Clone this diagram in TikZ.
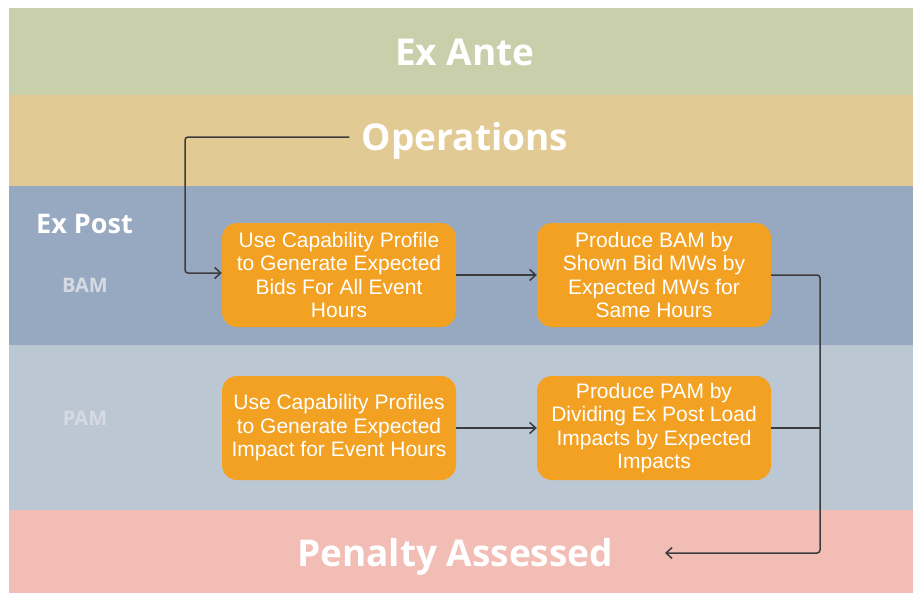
\documentclass[tikz,border=0pt]{standalone}
\usepackage{fontspec}
\setmainfont{Liberation Sans}
\newfontfamily\headfont{Open Sans}
\usetikzlibrary{arrows.meta}
\definecolor{exante}{HTML}{C9CFAA}
\definecolor{ops}{HTML}{E2CA94}
\definecolor{expost}{HTML}{97A9C0}
\definecolor{pamband}{HTML}{BCC7D4}
\definecolor{penalty}{HTML}{F1BDB5}
\definecolor{boxorange}{HTML}{F2A122}
\definecolor{linegrey}{HTML}{3C3C3C}
\definecolor{lblgrey}{HTML}{D6DBE3}
\tikzset{
  band/.style={fill=#1, draw=none},
  headtext/.style={text=white, font=\headfont\bfseries\fontsize{37}{40}\selectfont},
  rowlabel/.style={text=lblgrey, font=\headfont\bfseries\fontsize{20}{22}\selectfont},
  stepbox/.style={fill=boxorange, draw=none, rounded corners=15pt, minimum width=234pt, minimum height=104pt,
    align=center, text=white, font=\fontsize{21}{23.5}\selectfont, inner sep=0pt},
  conn/.style={draw=linegrey, line width=1.5pt, rounded corners=3pt},
  tip/.style={-{Straight Barb[length=6pt,width=11pt,line width=1.5pt]}}
}
\begin{document}
\begin{tikzpicture}[x=1pt,y=-1pt]
\useasboundingbox[fill=white] (0,0) rectangle (916,594);
\fill[exante] (9,8) rectangle (913,95);
\fill[ops] (9,95) rectangle (913,186);
\fill[expost] (9,186) rectangle (913,345);
\fill[pamband] (9,345) rectangle (913,510);
\fill[penalty] (9,510) rectangle (913,593);

\node[headtext] (exante) at (465,52) {Ex Ante};
\node[headtext] (ops) at (465,141) {Operations};
\node[headtext] (pen) at (455,557) {Penalty Assessed};
\node[text=white, font=\headfont\bfseries\fontsize{27}{30}\selectfont, anchor=west, inner sep=0pt] (expostlbl) at (36,224) {Ex Post};
\node[rowlabel] (bamlbl) at (85,285) {BAM};
\node[rowlabel] (pamlbl) at (85,418) {PAM};

\node[stepbox] (b1) at (339,275) {Use Capability Profile\\to Generate Expected\\Bids For All Event\\Hours};
\node[stepbox] (b2) at (654,275) {Produce BAM by\\Shown Bid MWs by\\Expected MWs for\\Same Hours};
\node[stepbox] (b3) at (339,428) {Use Capability Profiles\\to Generate Expected\\Impact for Event Hours};
\node[stepbox] (b4) at (654,428) {Produce PAM by\\Dividing Ex Post Load\\Impacts by Expected\\Impacts};

\coordinate (penend) at (665,553);
\coordinate (join) at (820,428);

\draw[conn,tip] ([xshift=-9pt,yshift=4pt]ops.west) -| (185,273) -- (b1.west |- 0,273);
\draw[conn,tip] (b1.east) -- (b2.west);
\draw[conn,tip] (b3.east) -- (b4.west);
\draw[conn,tip] (b2.east) -| (820,553) -- (penend);
\draw[conn] (b4.east) -- (join);
\end{tikzpicture}
\end{document}
